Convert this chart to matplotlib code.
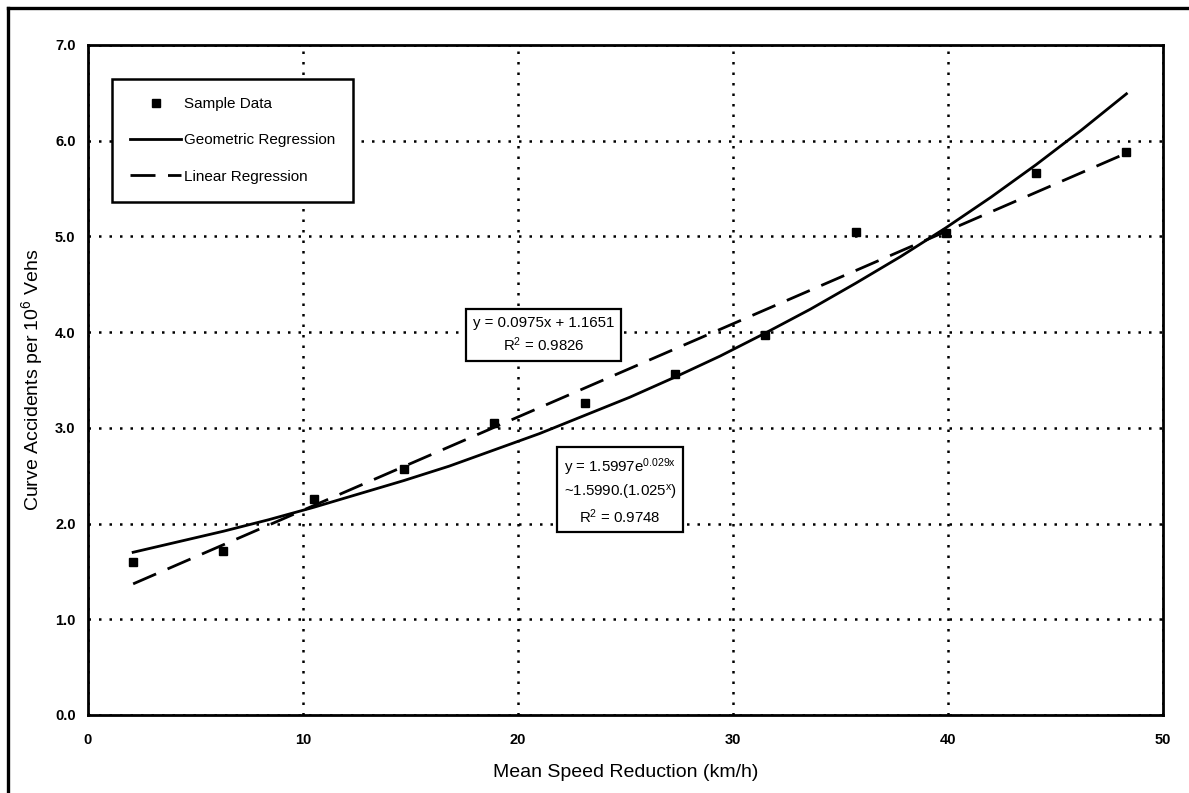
"""Curve accidents vs. mean speed reduction: sample data + two regressions."""

import matplotlib

matplotlib.use("Agg")
import matplotlib.pyplot as plt

plt.rcParams["font.family"] = ["Liberation Sans", "DejaVu Sans"]
plt.rcParams["mathtext.fontset"] = "custom"
plt.rcParams["mathtext.rm"] = "Liberation Sans"
plt.rcParams["mathtext.it"] = "Liberation Sans"

# Sample data
speed_reduction = [2.1, 6.3, 10.5, 14.7, 18.9, 23.1, 27.3, 31.5, 35.7, 39.9, 44.1, 48.3]
accidents = [1.60, 1.71, 2.26, 2.57, 3.05, 3.26, 3.56, 3.97, 5.05, 5.04, 5.66, 5.88]

# Geometric trend line
geo_x = [2.1, 4.2, 6.3, 8.4, 10.5, 12.6, 14.7, 16.8, 18.9, 21.0, 23.1, 25.2,
         27.3, 29.4, 31.5, 33.6, 35.7, 37.8, 39.9, 42.0, 44.1, 46.2, 48.3]
geo_y = [1.70, 1.81, 1.92, 2.04, 2.17, 2.31, 2.45, 2.60, 2.77, 2.94, 3.13, 3.32,
         3.53, 3.75, 3.99, 4.24, 4.51, 4.79, 5.09, 5.41, 5.75, 6.11, 6.49]

# Linear trend line, end points
lin_x = [2.1, 48.3]
lin_y = [1.37, 5.87]

x_ticks = [0, 10, 20, 30, 40, 50]
y_ticks = [0.0, 1.0, 2.0, 3.0, 4.0, 5.0, 6.0, 7.0]

linear_label = "y = 0.0975x + 1.1651\nR$^2$ = 0.9826"
geometric_label = "y = 1.5997e$^{0.029x}$\n~1.5990.(1.025$^{x}$)\nR$^2$ = 0.9748"

W, H = 1189, 793
fig = plt.figure(figsize=(W / 100, H / 100), dpi=100)
ax = fig.add_axes([88 / W, (H - 715) / H, (1163 - 88) / W, (715 - 45) / H])

ax.grid(True, color="black", linestyle=(0, (1, 3.2)), linewidth=1.8)
ax.set_axisbelow(True)

ax.plot(speed_reduction, accidents, linestyle="none", marker="s", markersize=6.3,
        color="black", label="Sample Data", zorder=4)
ax.plot(geo_x, geo_y, color="black", linewidth=2.0,
        label="Geometric Regression", zorder=3)
ax.plot(lin_x, lin_y, color="black", linewidth=2.0,
        linestyle=(0, (9, 4.5)), label="Linear Regression", zorder=3)

ax.set_xlim(0, 50)
ax.set_ylim(0, 7)
ax.set_xticks(x_ticks)
ax.set_yticks(y_ticks)
ax.set_yticklabels([f"{v:.1f}" for v in y_ticks])
ax.tick_params(length=0, labelsize=10.5)
ax.tick_params(axis="y", pad=9)
ax.tick_params(axis="x", pad=13)
for lab in ax.get_xticklabels() + ax.get_yticklabels():
    lab.set_fontweight("bold")
for s in ax.spines.values():
    s.set_linewidth(2.0)

ax.set_xlabel("Mean Speed Reduction (km/h)", fontsize=14, labelpad=12)
ax.set_ylabel("Curve Accidents per 10$^6$ Vehs", fontsize=14, labelpad=7)

leg = ax.legend(loc="upper left", bbox_to_anchor=(112 / W, 1 - 79 / H),
                bbox_transform=fig.transFigure, fontsize=11, frameon=True,
                fancybox=False, edgecolor="black", handlelength=3.3,
                handletextpad=0.2, labelspacing=1.45, borderpad=1.2,
                borderaxespad=0)
leg.get_frame().set_linewidth(1.8)
leg.get_frame().set_alpha(1)

box = dict(boxstyle="square,pad=0.45", facecolor="white", edgecolor="black", linewidth=1.6)
ax.text(21.2, 3.97, linear_label, ha="center", va="center", multialignment="center",
        fontsize=10.8, bbox=box, zorder=5, linespacing=1.35)
ax.text(24.75, 2.34, geometric_label, ha="center", va="center", multialignment="center",
        fontsize=10.8, bbox=box, zorder=5, linespacing=1.35)

# outer frame of the scanned figure (left and top edges)
fig.add_artist(plt.Line2D([8 / W, 8 / W], [0, 1 - 8 / H], color="black", linewidth=2.4))
fig.add_artist(plt.Line2D([8 / W, 1], [1 - 8 / H, 1 - 8 / H], color="black", linewidth=2.4))

fig.savefig("out.png", dpi=100)
